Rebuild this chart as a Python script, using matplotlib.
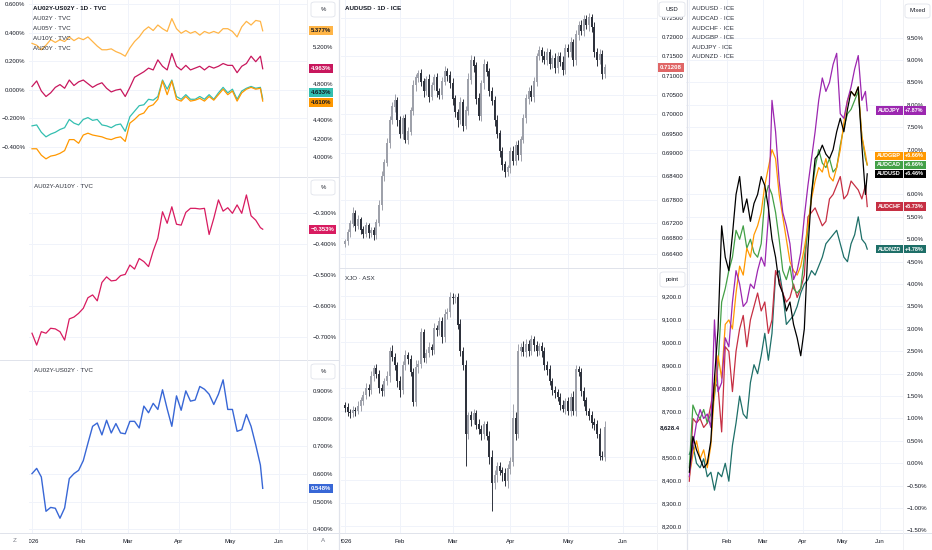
import numpy as np
import pandas as pd
import matplotlib
matplotlib.use('Agg')
import matplotlib.pyplot as plt
from matplotlib.lines import Line2D
from matplotlib.patches import FancyBboxPatch

# ---------------- DATA ----------------
bdays = pd.bdate_range('2026-01-02', '2026-06-01')          # trading-day index (bar index axis)
n_bars = 100                                               # Jan 2 .. May 21
time_labels = ['2026', 'Feb', 'Mar', 'Apr', 'May', 'Jun']
line_idx = list(range(0, 100, 2)) + [99]                   # bars sampled for line series

# Top-left pane: yields (%), right scale
au20y = [5.24, 5.22, 5.17, 5.22, 5.28, 5.25, 5.28, 5.26, 5.31, 5.27, 5.30, 5.28, 5.31, 5.26, 5.21, 5.17, 5.17,
         5.18, 5.15, 5.13, 5.10, 5.19, 5.26, 5.31, 5.38, 5.42, 5.38, 5.44, 5.40, 5.37, 5.51, 5.40, 5.35, 5.38,
         5.35, 5.37, 5.33, 5.37, 5.35, 5.37, 5.35, 5.40, 5.40, 5.37, 5.31, 5.42, 5.48, 5.44, 5.49, 5.48, 5.377]
au10y = [4.77, 4.83, 4.72, 4.66, 4.70, 4.76, 4.79, 4.75, 4.84, 4.78, 4.82, 4.84, 4.80, 4.76, 4.79, 4.81, 4.75,
         4.71, 4.73, 4.74, 4.66, 4.76, 4.87, 4.90, 4.93, 4.97, 4.95, 5.06, 4.99, 4.95, 5.13, 4.99, 4.95, 5.00,
         4.95, 4.97, 4.99, 4.95, 4.99, 4.97, 4.99, 5.02, 5.00, 5.00, 4.92, 4.99, 5.02, 5.10, 5.04, 5.10, 4.963]
au05y = [4.34, 4.35, 4.27, 4.22, 4.25, 4.27, 4.30, 4.32, 4.41, 4.37, 4.35, 4.41, 4.43, 4.40, 4.41, 4.35, 4.34,
         4.32, 4.35, 4.36, 4.28, 4.44, 4.50, 4.56, 4.57, 4.63, 4.62, 4.66, 4.84, 4.74, 4.84, 4.66, 4.63, 4.68,
         4.63, 4.63, 4.66, 4.63, 4.68, 4.63, 4.70, 4.76, 4.70, 4.74, 4.63, 4.72, 4.75, 4.77, 4.75, 4.76, 4.633]
au02y = [4.09, 4.09, 4.02, 3.98, 4.01, 4.02, 4.04, 4.07, 4.19, 4.19, 4.15, 4.24, 4.26, 4.24, 4.23, 4.22, 4.20,
         4.19, 4.21, 4.22, 4.17, 4.37, 4.41, 4.46, 4.48, 4.55, 4.57, 4.63, 4.83, 4.68, 4.83, 4.63, 4.61, 4.66,
         4.61, 4.62, 4.64, 4.61, 4.66, 4.62, 4.68, 4.74, 4.68, 4.72, 4.61, 4.70, 4.74, 4.76, 4.74, 4.75, 4.610]

# Middle-left pane: AU02Y-AU10Y (%)
au02_10 = [-0.687, -0.725, -0.682, -0.687, -0.671, -0.673, -0.682, -0.709, -0.641, -0.635, -0.623, -0.607,
           -0.573, -0.564, -0.583, -0.524, -0.506, -0.519, -0.517, -0.502, -0.498, -0.468, -0.481, -0.447,
           -0.457, -0.473, -0.423, -0.382, -0.297, -0.334, -0.281, -0.337, -0.340, -0.299, -0.286, -0.286,
           -0.288, -0.286, -0.370, -0.318, -0.259, -0.295, -0.284, -0.302, -0.275, -0.302, -0.243, -0.310,
           -0.324, -0.348, -0.353]

# Bottom-left pane: AU02Y-US02Y (%)
au02_us02 = [0.601, 0.620, 0.589, 0.465, 0.479, 0.476, 0.440, 0.477, 0.583, 0.601, 0.613, 0.648, 0.711, 0.772,
             0.784, 0.741, 0.794, 0.748, 0.782, 0.748, 0.745, 0.790, 0.790, 0.766, 0.845, 0.821, 0.855, 0.833,
             0.904, 0.835, 0.772, 0.882, 0.830, 0.900, 0.863, 0.867, 0.916, 0.906, 0.888, 0.851, 0.888, 0.940,
             0.833, 0.833, 0.754, 0.760, 0.815, 0.772, 0.705, 0.632, 0.548]

# AUDUSD daily candles
usd_close = [0.6672, 0.6695, 0.6718, 0.6745, 0.6712, 0.6728, 0.6702, 0.6690, 0.6712, 0.6693,
             0.6700, 0.6688, 0.6720, 0.6765, 0.6840, 0.6875, 0.6925, 0.6985, 0.7020, 0.7035,
             0.6985, 0.6950, 0.6990, 0.6935, 0.6955, 0.7010, 0.7075, 0.7095, 0.7105, 0.7085,
             0.7060, 0.7090, 0.7045, 0.7075, 0.7095, 0.7060, 0.7050, 0.7085, 0.7110, 0.7100,
             0.7080, 0.7040, 0.7005, 0.6985, 0.7030, 0.6970, 0.7010, 0.7090, 0.7140, 0.7125,
             0.7040, 0.6995, 0.7080, 0.7130, 0.7110, 0.7060, 0.7035, 0.6985, 0.6950, 0.6905,
             0.6870, 0.6850, 0.6862, 0.6905, 0.6880, 0.6920, 0.6895, 0.6935, 0.6990, 0.7040,
             0.7060, 0.7045, 0.7085, 0.7150, 0.7165, 0.7150, 0.7140, 0.7160, 0.7130, 0.7145,
             0.7120, 0.7150, 0.7135, 0.7115, 0.7170, 0.7160, 0.7185, 0.7140, 0.7205, 0.7230,
             0.7215, 0.7245, 0.7230, 0.7250, 0.7225, 0.7160, 0.7140, 0.7155, 0.7105, 0.71208]
usd_first_open = 0.6665
usd_wick_up = [6, 10, 9, 16, 8, 12, 7, 9, 11, 8, 9, 10, 9, 14, 13, 10, 15, 11, 12, 17,
               10, 12, 8, 11, 13, 9, 15, 9, 11, 13, 10, 8, 14, 10, 9, 13, 8, 12, 15, 10,
               11, 13, 9, 10, 14, 11, 12, 16, 13, 10, 11, 15, 10, 13, 9, 11, 10, 12, 13, 9,
               11, 10, 8, 12, 13, 10, 14, 9, 11, 13, 10, 15, 11, 9, 12, 10, 13, 11, 10, 9,
               13, 11, 10, 15, 12, 11, 14, 10, 13, 11, 15, 12, 13, 11, 10, 14, 11, 13, 12, 10]   # pips
usd_wick_dn = [8, 9, 12, 10, 14, 9, 11, 10, 8, 13, 9, 12, 10, 8, 11, 13, 9, 12, 10, 14,
               16, 11, 13, 10, 12, 9, 11, 14, 10, 12, 15, 11, 13, 9, 12, 14, 10, 11, 9, 13,
               12, 15, 11, 18, 10, 14, 9, 12, 11, 16, 13, 10, 12, 14, 11, 13, 12, 15, 11, 14,
               13, 12, 10, 14, 12, 11, 13, 15, 10, 12, 14, 11, 13, 12, 10, 14, 11, 12, 13, 10,
               12, 14, 11, 13, 10, 12, 11, 14, 12, 13, 11, 12, 10, 14, 13, 12, 15, 11, 14, 12]   # pips

# XJO daily candles
xjo_close = [8715, 8695, 8690, 8705, 8700, 8720, 8745, 8770, 8800, 8790,
             8850, 8885, 8860, 8800, 8785, 8830, 8850, 8960, 8935, 8900,
             8830, 8790, 8900, 8940, 8925, 8870, 8740, 8890, 8905, 9040,
             8930, 8950, 8975, 8965, 9060, 9050, 9090, 9020, 9120, 9130,
             9195, 9190, 9195, 9075, 8960, 8900, 8600, 8680, 8660, 8690,
             8640, 8620, 8600, 8640, 8590, 8500, 8385, 8420, 8460, 8440,
             8430, 8395, 8450, 8480, 8670, 8600, 8960, 8975, 8955, 8990,
             8960, 9010, 8985, 8960, 8980, 8960, 8900, 8880, 8830, 8790,
             8780, 8760, 8725, 8710, 8740, 8700, 8760, 8700, 8880, 8870,
             8785, 8745, 8700, 8680, 8650, 8640, 8600, 8505, 8500, 8628.4]
xjo_first_open = 8725
xjo_wick_up = [15, 20, 12, 18, 14, 22, 16, 15, 20, 18, 24, 15, 18, 20, 16, 14, 22, 18, 25, 16,
               15, 20, 18, 24, 16, 20, 15, 30, 18, 22, 16, 20, 24, 18, 22, 15, 20, 18, 24, 16,
               22, 18, 12, 20, 25, 18, 20, 15, 22, 18, 16, 24, 20, 15, 18, 22, 30, 25, 18, 20,
               15, 22, 18, 20, 60, 25, 30, 20, 28, 25, 18, 22, 16, 20, 15, 20, 18, 16, 22, 15,
               20, 16, 18, 22, 15, 20, 18, 25, 22, 15, 16, 20, 18, 15, 20, 18, 22, 25, 20, 30]
xjo_wick_dn = [18, 15, 20, 16, 22, 15, 18, 20, 16, 24, 18, 20, 15, 22, 18, 20, 16, 22, 18, 20,
               25, 30, 18, 20, 22, 16, 20, 18, 24, 20, 18, 22, 16, 20, 18, 22, 20, 24, 18, 20,
               22, 25, 20, 18, 22, 20, 140, 20, 25, 18, 20, 22, 25, 20, 18, 30, 120, 25, 30, 20,
               35, 20, 28, 22, 20, 25, 18, 20, 15, 22, 20, 18, 22, 20, 18, 25, 20, 22, 18, 20,
               22, 18, 20, 15, 22, 18, 20, 16, 22, 18, 20, 22, 18, 20, 25, 22, 18, 20, 15, 18]

# Right pane: % change since start
audusd = [-0.2, 0.6, 0.3, 0.1, -0.1, 0.0, 0.5, 1.9, 3.0, 5.3, 4.6, 4.3, 5.1, 6.0, 6.4, 5.6, 5.9, 5.4, 5.8,
          6.0, 6.4, 6.2, 5.7, 5.0, 4.6, 4.0, 3.8, 3.4, 3.6, 3.1, 2.8, 2.4, 3.0, 4.8, 6.0, 6.8, 6.9, 7.1,
          6.9, 6.8, 7.0, 7.4, 7.7, 7.4, 7.9, 8.3, 8.2, 8.4, 7.1, 6.0, 6.46]
audcad = [-0.1, 1.3, 1.1, 1.0, 1.2, 0.9, 1.1, 1.5, 2.2, 3.6, 3.9, 4.3, 4.6, 5.2, 5.0, 5.3, 4.8, 5.0, 4.7,
          4.6, 4.9, 5.9, 6.2, 6.0, 5.6, 5.0, 4.3, 4.1, 4.4, 3.9, 3.8, 3.9, 4.6, 5.2, 6.0, 6.6, 7.0, 6.7,
          6.6, 6.8, 6.5, 6.6, 7.1, 7.5, 7.8, 7.9, 8.1, 8.3, 7.3, 6.8, 6.66]
audchf = [-0.4, 1.0, 0.9, 1.0, 0.8, 0.9, 1.3, 1.8, 1.7, 0.7, 2.6, 2.5, 1.6, 2.5, 3.0, 3.3, 2.6, 3.2, 3.5,
          3.8, 3.4, 3.6, 2.9, 3.2, 4.3, 4.1, 3.8, 3.6, 3.7, 4.0, 3.7, 3.9, 4.2, 5.5, 5.6, 5.7, 5.5, 5.3,
          5.4, 5.9, 6.0, 6.2, 6.4, 5.9, 6.0, 6.3, 6.2, 6.1, 5.9, 6.2, 5.73]
audgbp = [-0.3, 0.2, 0.5, 0.1, 0.3, -0.1, 0.4, 1.6, 2.4, 1.9, 3.1, 3.2, 3.0, 3.8, 4.4, 4.2, 4.8, 4.6, 5.1,
          5.3, 5.6, 6.2, 6.6, 7.0, 6.8, 6.0, 5.5, 5.0, 4.5, 4.3, 4.2, 4.4, 4.8, 5.3, 5.9, 6.3, 6.6, 6.5,
          6.8, 6.4, 6.3, 6.6, 7.0, 7.6, 8.1, 8.3, 8.2, 8.4, 7.3, 6.9, 6.66]
audjpy = [-0.3, 0.4, 0.9, 1.2, 1.0, 1.1, 0.8, 3.2, 1.6, 1.8, 2.8, 2.6, 3.6, 4.3, 4.0, 3.5, 3.6, 4.0, 3.9,
          4.3, 4.6, 4.4, 5.5, 8.1, 7.4, 6.3, 5.6, 5.3, 4.9, 4.1, 4.3, 4.7, 5.5, 6.2, 6.8, 7.4, 8.1, 8.6,
          8.3, 8.5, 8.9, 9.15, 7.8, 7.7, 8.1, 8.4, 8.8, 9.1, 8.1, 8.3, 7.87]
audnzd = [0.2, 0.4, 0.0, -0.1, 0.1, -0.3, -0.2, -0.6, -0.2, -0.3, 0.0, -0.4, 0.4, 0.9, 1.5, 1.1, 1.0, 1.8,
          2.2, 2.0, 2.4, 2.9, 2.3, 2.9, 4.2, 4.3, 3.8, 3.1, 3.2, 3.3, 3.5, 3.8, 4.0, 4.1, 4.3, 4.2, 4.4,
          4.6, 4.9, 5.0, 5.1, 5.2, 4.9, 4.6, 4.5, 4.9, 5.1, 5.5, 5.0, 4.9, 4.78]

# tick values (labels hidden behind the last-value tags are left out)
tl_left_ticks = [0.6, 0.4, 0.2, 0.0, -0.2, -0.4]
tl_right_ticks = [5.2, 4.8, 4.4, 4.2, 4.0]
ml_ticks = [-0.3, -0.4, -0.5, -0.6, -0.7]
bl_ticks = [0.9, 0.8, 0.7, 0.6, 0.5, 0.4]
usd_ticks = [0.725, 0.72, 0.715, 0.71, 0.705, 0.70, 0.695, 0.69, 0.684, 0.678, 0.672, 0.668, 0.664]
xjo_ticks = [9200, 9100, 9000, 8900, 8800, 8700, 8500, 8400, 8300, 8200]
rt_ticks = [9.5, 9.0, 8.5, 8.0, 7.5, 7.0, 6.0, 5.5, 5.0, 4.5, 4.0, 3.5, 3.0, 2.5, 2.0, 1.5, 1.0, 0.5,
            0.0, -0.5, -1.0, -1.5]

# ---------------- STYLE / LAYOUT ----------------
W, H = 932, 550
plt.rcParams['font.family'] = ['Liberation Sans', 'DejaVu Sans']
TXT = '#131722'
GRID = '#F0F3FA'
SEP = '#E0E3EB'
FS = 4.3

fig = plt.figure(figsize=(W / 100, H / 100), dpi=100)
fig.patch.set_facecolor('white')


def rect(x0, y0, x1, y1):
    return [x0 / W, 1 - y1 / H, (x1 - x0) / W, (y1 - y0) / H]


month_ticks = [0] + [i for i in range(1, len(bdays)) if bdays[i].month != bdays[i - 1].month]

XL_LEFT = (-1.29, 118.0)
XL_MID = (-1.49, 118.9)
XL_RIGHT = (-1.84, 118.9)


def base(ax, xlim, ylim, yticks, fmt, pad, side='right'):
    ax.set_xlim(*xlim)
    ax.set_ylim(*ylim)
    ax.set_facecolor('none')
    for s in ax.spines.values():
        s.set_visible(False)
    ax.set_xticks(month_ticks)
    ax.tick_params(axis='x', length=0, labelbottom=False)
    ax.set_yticks(yticks)
    ax.set_yticklabels([fmt(v) for v in yticks])
    if side == 'right':
        ax.yaxis.tick_right()
    else:
        ax.yaxis.tick_left()
    ax.tick_params(axis='y', length=0, pad=pad, labelsize=FS, labelcolor=TXT)
    ax.grid(True, color=GRID, lw=0.7)
    ax.set_axisbelow(True)


def pct3(v):
    return (f'{v:.3f}%').replace('-', '\u2212')


def pct2(v):
    return (f'{v:.2f}%').replace('-', '\u2212')


def tag(ax, val, text, bg, fg, dy=0.0, xoff=2.6, ha='left', fs=4.3):
    ax.annotate(text, xy=(1.0, val), xycoords=ax.get_yaxis_transform(),
                xytext=(xoff, dy), textcoords='offset points', ha=ha, va='center',
                fontsize=fs, color=fg, fontweight='bold', annotation_clip=False, zorder=20,
                bbox=dict(boxstyle='square,pad=0.33', fc=bg, ec='none'))


def candles(ax, close, first_open, wup, wdn, unit, up='#9EA1AA', dn='#2E323C', width=0.74):
    close = np.asarray(close, float)
    opens = np.concatenate([[first_open], close[:-1]])
    hi = np.maximum(opens, close) + np.asarray(wup) * unit
    lo = np.minimum(opens, close) - np.asarray(wdn) * unit
    x = np.arange(len(close))
    cols = [up if c >= o else dn for o, c in zip(opens, close)]
    ax.vlines(x, lo, hi, colors=cols, lw=0.7, zorder=3)
    ax.bar(x, np.abs(close - opens) + unit * 1.5, bottom=np.minimum(opens, close), width=width,
           color=cols, lw=0, zorder=4)


lx = np.array(line_idx)

# ---- Top-left
ax_tl = fig.add_axes(rect(29, 0, 307, 177))
base(ax_tl, XL_LEFT, (-0.610, 0.628), tl_left_ticks, pct3, 2.6, side='left')
ax_tl2 = ax_tl.twinx()
ax_tl2.set_xlim(*XL_LEFT)
ax_tl2.set_ylim(3.782, 5.713)
for s in ax_tl2.spines.values():
    s.set_visible(False)
ax_tl2.set_yticks(tl_right_ticks)
ax_tl2.set_yticklabels([pct3(v) for v in tl_right_ticks])
ax_tl2.tick_params(axis='y', length=0, pad=4.3, labelsize=FS, labelcolor=TXT)
C20, C10, C05, C02 = '#FFB547', '#C8175D', '#33BFB0', '#FF9800'
ax_tl2.plot(lx, au20y, color=C20, lw=0.9)
ax_tl2.plot(lx, au10y, color=C10, lw=0.9)
ax_tl2.plot(lx, au05y, color=C05, lw=0.9)
ax_tl2.plot(lx, au02y, color=C02, lw=0.9)
tag(ax_tl2, au20y[-1], f'{au20y[-1]:.3f}%', C20, '#131722')
tag(ax_tl2, au10y[-1], f'{au10y[-1]:.3f}%', C10, 'white')
tag(ax_tl2, au05y[-1], f'{au05y[-1]:.3f}%', C05, '#131722', dy=5.0)
tag(ax_tl2, au02y[-1], f'{au02y[-1]:.3f}%', C02, '#131722', dy=-1.0)

# ---- Middle-left
ax_ml = fig.add_axes(rect(29, 177, 307, 360))
base(ax_ml, XL_LEFT, (-0.7729, -0.1854), ml_ticks, pct3, 4.3)
CML = '#D81B60'
ax_ml.plot(lx, au02_10, color=CML, lw=0.9)
tag(ax_ml, au02_10[-1], pct3(au02_10[-1]), CML, 'white')

# ---- Bottom-left
ax_bl = fig.add_axes(rect(29, 360, 307, 533))
base(ax_bl, XL_LEFT, (0.3866, 1.0116), bl_ticks, pct3, 4.3)
CBL = '#3867D6'
ax_bl.plot(lx, au02_us02, color=CBL, lw=1.0)
tag(ax_bl, au02_us02[-1], pct3(au02_us02[-1]), CBL, 'white')

# ---- AUDUSD candles
ax_usd = fig.add_axes(rect(341, 0, 657, 268))
base(ax_usd, XL_MID, (0.66031, 0.72956), usd_ticks, lambda v: f'{v:.5f}', 3.6)
candles(ax_usd, usd_close, usd_first_open, usd_wick_up, usd_wick_dn, 1e-4)
tag(ax_usd, usd_close[-1], f'{usd_close[-1]:.5f}', '#E06666', 'white', xoff=2.0)

# ---- XJO candles
ax_xjo = fig.add_axes(rect(341, 268, 657, 533))
base(ax_xjo, XL_MID, (8169.6, 9321.7), xjo_ticks, lambda v: f'{v:,.1f}', 3.6)
candles(ax_xjo, xjo_close, xjo_first_open, xjo_wick_up, xjo_wick_dn, 1.0)
tag(ax_xjo, xjo_close[-1], f'{xjo_close[-1]:,.1f}', 'white', '#131722', xoff=2.0)

# ---- Right comparison
ax_r = fig.add_axes(rect(686, 0, 903, 533))
base(ax_r, XL_RIGHT, (-1.556, 10.34), rt_ticks, pct2, 2.7)
rseries = [('AUDNZD', audnzd, '#1E6F68'), ('AUDCHF', audchf, '#C62F43'), ('AUDCAD', audcad, '#43A047'),
           ('AUDGBP', audgbp, '#FF9800'), ('AUDJPY', audjpy, '#9C27B0'), ('AUDUSD', audusd, '#000000')]
for name, ser, col in rseries:
    ax_r.plot(lx, ser, color=col, lw=0.9)
r_dy = {'AUDGBP': 6.5}
for name, ser, col in rseries:
    dy = r_dy.get(name, 0.0)
    tag(ax_r, ser[-1], name, col, 'white', dy=dy, xoff=-1.6, ha='right', fs=4.0)
    tag(ax_r, ser[-1], '+' + pct2(ser[-1]), col, 'white', dy=dy, xoff=1.6, ha='left', fs=4.0)

# ---- time axes strips
for (x0, x1, xl, labs, ticks) in [(29, 307, XL_LEFT, time_labels, month_ticks),
                                  (341, 657, XL_MID, time_labels, month_ticks),
                                  (686, 903, XL_RIGHT, time_labels[1:], month_ticks[1:])]:
    at = fig.add_axes(rect(x0, 533, x1, 550))
    at.set_xlim(*xl)
    at.set_ylim(0, 1)
    at.axis('off')
    for i, lab in zip(ticks, labs):
        at.text(i, 0.48, lab, ha='center', va='center', fontsize=FS, color=TXT, clip_on=True)

# ---- separators
def hline(y, x0, x1, col=SEP, lw=0.7):
    fig.add_artist(Line2D([x0 / W, x1 / W], [1 - y / H, 1 - y / H], color=col, lw=lw))


def vline(x, y0, y1, col=SEP, lw=0.7):
    fig.add_artist(Line2D([x / W, x / W], [1 - y0 / H, 1 - y1 / H], color=col, lw=lw))


hline(177, 0, 339)
hline(360, 0, 339)
hline(268, 339, 687)
hline(533, 0, W)
vline(339, 0, H, lw=0.9)
vline(687, 0, H, lw=0.9)
vline(307, 0, H, col='#F0F1F4')
vline(657, 0, H, col='#F0F1F4')
vline(903, 0, H, col='#F0F1F4')

# ---- legends
def ftext(x, y, s, bold=False, col=TXT, fs=4.5, ha='left'):
    fig.text(x / W, 1 - y / H, s, ha=ha, va='center', fontsize=fs, color=col,
             fontweight='bold' if bold else 'normal')


ftext(33, 9, 'AU02Y-US02Y \u00b7 1D \u00b7 TVC', bold=True)
for j, s in enumerate(['AU02Y \u00b7 TVC', 'AU05Y \u00b7 TVC', 'AU10Y \u00b7 TVC', 'AU20Y \u00b7 TVC']):
    ftext(33, 19 + 9.7 * j, s, col='#2A2E39')
ftext(34, 186, 'AU02Y-AU10Y \u00b7 TVC', col='#2A2E39')
ftext(34, 370, 'AU02Y-US02Y \u00b7 TVC', col='#2A2E39')
ftext(345, 9, 'AUDUSD \u00b7 1D \u00b7 ICE', bold=True)
ftext(345, 278, 'XJO \u00b7 ASX', col='#2A2E39')
for j, s in enumerate(['AUDUSD \u00b7 ICE', 'AUDCAD \u00b7 ICE', 'AUDCHF \u00b7 ICE',
                       'AUDGBP \u00b7 ICE', 'AUDJPY \u00b7 ICE', 'AUDNZD \u00b7 ICE']):
    ftext(692, 9 + 9.6 * j, s, col='#2A2E39')

# ---- unit boxes
def ubox(x0, y0, x1, y1, s):
    p = FancyBboxPatch((x0 / W, 1 - y1 / H), (x1 - x0) / W, (y1 - y0) / H,
                       boxstyle='round,pad=0,rounding_size=0.004', transform=fig.transFigure,
                       fc='white', ec=SEP, lw=0.6, zorder=30)
    fig.add_artist(p)
    fig.text((x0 + x1) / 2 / W, 1 - (y0 + y1) / 2 / H, s, ha='center', va='center',
             fontsize=4.3, color=TXT, zorder=31)


ubox(311, 2, 335, 17, '%')
ubox(311, 180, 335, 195, '%')
ubox(311, 364, 335, 379, '%')
ubox(659, 2, 685, 17, 'USD')
ubox(660, 272, 685, 287, 'point')
ubox(905, 4, 930, 18, 'Mixed')

ftext(15, 541, 'Z', col='#787B86', ha='center')
ftext(323, 541, 'A', col='#787B86', ha='center')

fig.savefig('out.png', dpi=100, facecolor='white')
